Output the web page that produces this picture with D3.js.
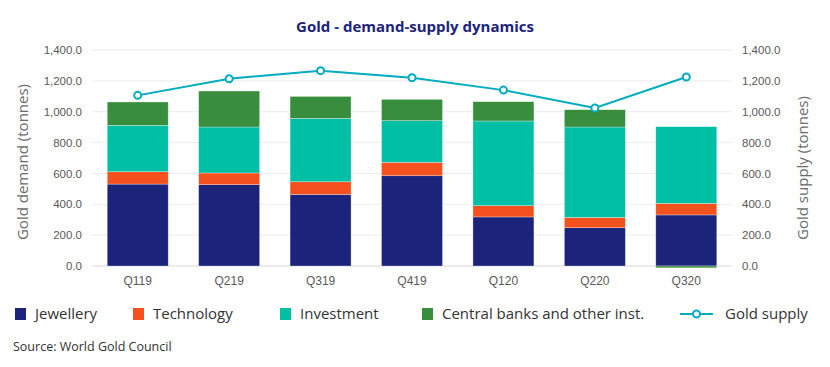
<!DOCTYPE html>
<html>
<head>
<meta charset="utf-8">
<script src="https://cdn.jsdelivr.net/npm/d3@7"></script>
<style>
  html, body { margin: 0; padding: 0; background: #fff; }
  svg { display: block; font-family: "Open Sans", "Noto Sans", sans-serif; }
</style>
</head>
<body>
<svg id="chart" width="830" height="367"></svg>
<script>
const quarters = ["Q119", "Q219", "Q319", "Q419", "Q120", "Q220", "Q320"];
const jewellery = [531, 527, 464, 585, 318, 248, 331];
const technology = [80, 76, 82, 87, 73, 67, 75];
const investment = [301, 298, 411, 270, 549, 586, 497];
const centralBanks = [151, 233, 142, 138, 125, 112, -12];
const goldSupply = [1106, 1214, 1266, 1220, 1140, 1024, 1225];
const yTicks = [0, 200, 400, 600, 800, 1000, 1200, 1400];

const seriesNames = ["Jewellery", "Technology", "Investment", "Central banks and other inst."];
const seriesColors = ["#1b237b", "#f4511e", "#00bfa5", "#388e3c"];
const supplyColor = "#00acc1";

const rows = quarters.map((q, i) => ({
  q,
  "Jewellery": jewellery[i],
  "Technology": technology[i],
  "Investment": investment[i],
  "Central banks and other inst.": centralBanks[i]
}));

const svg = d3.select("#chart");
const plotLeft = 92, plotRight = 732, plotTop = 50, plotBottom = 266;

const x = d3.scaleBand().domain(quarters).range([plotLeft, plotRight]).paddingInner(0.333).paddingOuter(0.1665);
const y = d3.scaleLinear().domain([0, 1400]).range([plotBottom, plotTop]);
const y2 = d3.scaleLinear().domain([0, 1400]).range([plotBottom, plotTop]);

// gridlines
svg.append("g").selectAll("line").data(yTicks).join("line")
  .attr("x1", plotLeft).attr("x2", plotRight)
  .attr("y1", d => y(d)).attr("y2", d => y(d))
  .attr("stroke", d => d === 0 ? "#d9d9d9" : "#ebebeb")
  .attr("stroke-width", 1);

// left axis
const fmt = d3.format(",.1f");
const yAxisL = svg.append("g").attr("transform", `translate(${plotLeft},0)`)
  .call(d3.axisLeft(y).tickValues(yTicks).tickFormat(fmt).tickSize(0).tickPadding(10));
yAxisL.select(".domain").remove();
yAxisL.selectAll("text").attr("fill", "#595959").style("font-size", "11.5px");

const yAxisR = svg.append("g").attr("transform", `translate(${plotRight},0)`)
  .call(d3.axisRight(y2).tickValues(yTicks).tickFormat(fmt).tickSize(0).tickPadding(10));
yAxisR.select(".domain").remove();
yAxisR.selectAll("text").attr("fill", "#595959").style("font-size", "11.5px");

// x axis
const xAxis = svg.append("g").attr("transform", `translate(0,${plotBottom})`)
  .call(d3.axisBottom(x).tickSize(0).tickPadding(10));
xAxis.select(".domain").remove();
xAxis.selectAll("text").attr("fill", "#595959").style("font-size", "12px");

// stacked bars
const stack = d3.stack().keys(seriesNames).offset(d3.stackOffsetDiverging);
const stacked = stack(rows);
svg.append("g").selectAll("g").data(stacked).join("g")
  .attr("fill", (d, i) => seriesColors[i])
  .selectAll("rect").data(d => d).join("rect")
  .attr("x", d => x(d.data.q))
  .attr("width", x.bandwidth())
  .attr("y", d => y(Math.max(d[0], d[1])))
  .attr("height", d => Math.abs(y(d[0]) - y(d[1])))
  .attr("stroke", "rgba(255,255,255,0.5)")
  .attr("stroke-width", 0.6);

// supply line
const line = d3.line().x((d, i) => x(quarters[i]) + x.bandwidth() / 2).y(d => y2(d));
svg.append("path").datum(goldSupply)
  .attr("d", line).attr("fill", "none")
  .attr("stroke", supplyColor).attr("stroke-width", 2);
svg.append("g").selectAll("circle").data(goldSupply).join("circle")
  .attr("cx", (d, i) => x(quarters[i]) + x.bandwidth() / 2)
  .attr("cy", d => y2(d))
  .attr("r", 3.5)
  .attr("fill", "#fff").attr("stroke", supplyColor).attr("stroke-width", 2);

// title
svg.append("text").attr("x", 415).attr("y", 32).attr("text-anchor", "middle")
  .attr("fill", "#1b237b").style("font-size", "15px").style("font-weight", "bold")
  .text("Gold - demand-supply dynamics");

// axis titles
svg.append("text").attr("transform", "translate(28,162) rotate(-90)")
  .attr("text-anchor", "middle").attr("fill", "#6b6b6b").style("font-size", "15px")
  .text("Gold demand (tonnes)");
svg.append("text").attr("transform", "translate(808,168) rotate(-90)")
  .attr("text-anchor", "middle").attr("fill", "#6b6b6b").style("font-size", "15px")
  .text("Gold supply (tonnes)");

// legend
const legendY = 314;
const legendItems = [
  {name: seriesNames[0], color: seriesColors[0], x: 15},
  {name: seriesNames[1], color: seriesColors[1], x: 133},
  {name: seriesNames[2], color: seriesColors[2], x: 280},
  {name: seriesNames[3], color: seriesColors[3], x: 422}
];
const lg = svg.append("g");
legendItems.forEach(it => {
  lg.append("rect").attr("x", it.x).attr("y", legendY - 6).attr("width", 11).attr("height", 12).attr("fill", it.color);
  lg.append("text").attr("x", it.x + 20).attr("y", legendY + 5)
    .attr("fill", "#333").style("font-size", "15px").text(it.name);
});
lg.append("line").attr("x1", 680).attr("x2", 713).attr("y1", legendY).attr("y2", legendY)
  .attr("stroke", supplyColor).attr("stroke-width", 2);
lg.append("circle").attr("cx", 696.5).attr("cy", legendY).attr("r", 3.5)
  .attr("fill", "#fff").attr("stroke", supplyColor).attr("stroke-width", 2);
lg.append("text").attr("x", 725).attr("y", legendY + 5)
  .attr("fill", "#333").style("font-size", "15px").text("Gold supply");

// source
svg.append("text").attr("x", 13).attr("y", 351)
  .attr("fill", "#333").style("font-size", "12.5px").text("Source: World Gold Council");
</script>
</body>
</html>
